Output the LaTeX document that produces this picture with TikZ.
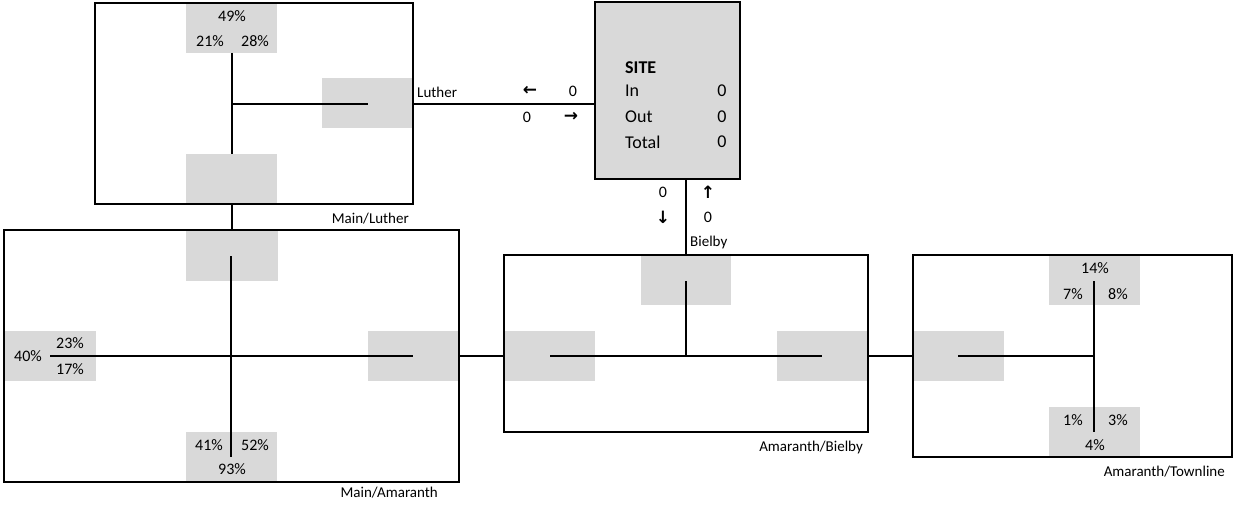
\documentclass[tikz,border=0pt]{standalone}
\usepackage{fontspec}
\setmainfont{Carlito}
\newfontfamily\arrowfont{DejaVu Sans}
\usetikzlibrary{fit}
\definecolor{cellgray}{HTML}{D9D9D9}
\begin{document}
\begin{tikzpicture}[x=1pt,y=-1pt,
 box/.style={draw,line width=1.3pt,inner sep=0pt,rectangle},
 cell/.style={fill=cellgray,draw=none,inner sep=0pt,rectangle},
 wire/.style={line width=1.3pt},
 pct/.style={font=\fontsize{16}{19}\selectfont,inner sep=0pt},
 lbl/.style={font=\fontsize{15}{18}\selectfont,inner sep=0pt},
 sitetxt/.style={font=\fontsize{18}{21}\selectfont,inner sep=0pt,anchor=west},
 sitenum/.style={font=\fontsize{18}{21}\selectfont,inner sep=0pt},
 arr/.style={font=\arrowfont\bfseries\fontsize{17}{20}\selectfont,inner sep=0pt}]
\useasboundingbox (0,0) rectangle (1234,505);

% ---------- gray cells ----------
\node[cell, fit={(186,3)(277,53)}] (mlT) {};
\node[cell, fit={(322,78)(413,128)}] (mlR) {};
\node[cell, fit={(186,154)(277,204)}] (mlB) {};

\node[cell, fit={(186,230)(278,281)}] (maT) {};
\node[cell, fit={(4,331)(96,381)}] (maL) {};
\node[cell, fit={(368,331)(459,381)}] (maR) {};
\node[cell, fit={(186,432)(277,482)}] (maB) {};

\node[cell, fit={(641,255)(731,305)}] (abT) {};
\node[cell, fit={(504,331)(595,381)}] (abL) {};
\node[cell, fit={(777,331)(868,381)}] (abR) {};

\node[cell, fit={(1049,255)(1140,305)}] (atT) {};
\node[cell, fit={(913,331)(1004,381)}] (atL) {};
\node[cell, fit={(1049,407)(1140,457)}] (atB) {};

% ---------- boxes ----------
\node[box, fit={(95,3)(413,204)}] (ML) {};
\node[box, fit={(4,230)(459,482)}] (MA) {};
\node[box, fit={(504,255)(868,432)}] (AB) {};
\node[box, fit={(913,255)(1232,457)}] (AT) {};
\node[box, fill=cellgray, fit={(595,2)(740,179)}] (SITE) {};

% ---------- junctions ----------
\coordinate (jML) at (232,104);
\coordinate (jMA) at (231,356);
\coordinate (jAB) at (686,356);
\coordinate (jAT) at (1094,356);

% ---------- inner wires ----------
\draw[wire] (232,53) -- (232,154);
\draw[wire] (jML) -- (368,104);

\draw[wire] (231,256) -- (231,457);
\draw[wire] (50,356) -- (413,356);

\draw[wire] (686,281) -- (jAB);
\draw[wire] (550,356) -- (822,356);

\draw[wire] (1094,281) -- (1094,432);
\draw[wire] (958,356) -- (jAT);

% ---------- connectors ----------
\draw[wire] (ML.south -| jML) -- (MA.north -| jML);
\draw[wire] (ML.east |- jML) -- (SITE.west |- jML);
\draw[wire] (SITE.south -| jAB) -- (AB.north -| jAB);
\draw[wire] (MA.east |- jMA) -- (AB.west |- jMA);
\draw[wire] (AB.east |- jAB) -- (AT.west |- jAB);

% ---------- texts ----------
\node[pct] (t49) at (232,16) {49\%};
\node[pct] (t21) at (210,41) {21\%};
\node[pct] (t28) at (255,41) {28\%};

\node[pct] (t40) at (28,356) {40\%};
\node[pct] (t23) at (70,343) {23\%};
\node[pct] (t17) at (70,369) {17\%};
\node[pct] (t41) at (209,445) {41\%};
\node[pct] (t52) at (255,445) {52\%};
\node[pct] (t93) at (232,469) {93\%};

\node[pct] (t14) at (1095,268) {14\%};
\node[pct] (t7) at (1073,294) {7\%};
\node[pct] (t8) at (1118,294) {8\%};
\node[pct] (t1) at (1073,420) {1\%};
\node[pct] (t3) at (1118,420) {3\%};
\node[pct] (t4) at (1095,445) {4\%};

\node[lbl, anchor=east] (lML) at (409,219) {Main/Luther};
\node[lbl, anchor=east] (lMA) at (438,493) {Main/Amaranth};
\node[lbl, anchor=east] (lAB) at (863,447) {Amaranth/Bielby};
\node[lbl, anchor=east] (lAT) at (1225,472) {Amaranth/Townline};

\node[lbl, anchor=west] (lLu) at (417,92) {Luther};
\node[arr] (aL) at (530,91) {←};
\node[pct] (nL1) at (573,91) {0};
\node[pct] (nL2) at (527,117) {0};
\node[arr] (aR) at (571,117) {→};

\node[lbl, anchor=west] (lBi) at (690,243) {Bielby};
\node[pct] (nB1) at (663,192) {0};
\node[arr] (aD) at (663,217) {↓};
\node[arr] (aU) at (708,192) {↑};
\node[pct] (nB2) at (708,217) {0};

\node[sitetxt, font=\fontsize{18}{21}\selectfont\bfseries] (sT) at (625,68) {SITE};
\node[sitetxt] (sIn) at (625,91) {In};
\node[sitetxt] (sOut) at (625,117) {Out};
\node[sitetxt] (sTot) at (625,142) {Total};
\node[sitenum] (vIn) at (722,91) {0};
\node[sitenum] (vOut) at (722,117) {0};
\node[sitenum] (vTot) at (722,142) {0};
\end{tikzpicture}
\end{document}
